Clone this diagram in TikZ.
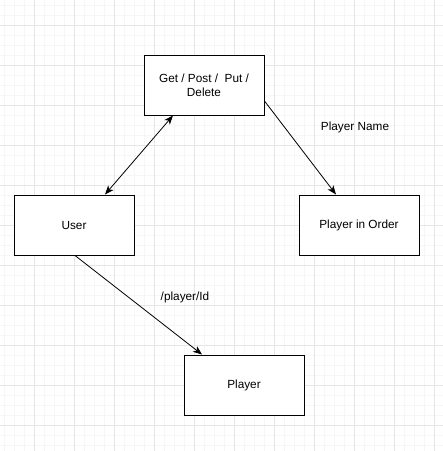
\documentclass[tikz,border=0pt]{standalone}
\usepackage{fontspec}
\setmainfont{Liberation Sans}
\usetikzlibrary{arrows.meta}
\definecolor{gridminor}{HTML}{F6F6F6}
\definecolor{gridmajor}{HTML}{E6E6E6}
\begin{document}
\begin{tikzpicture}[x=1pt,y=-1pt,
  box/.style={draw=black,line width=1pt,fill=white,minimum width=120pt,minimum height=60pt,inner sep=0pt,align=center,font=\fontsize{11.8}{14}\selectfont},
  lbl/.style={font=\fontsize{11.8}{14}\selectfont,inner sep=0pt},
  conn/.style={line width=0.8pt,-{Stealth[length=9pt,width=7pt,inset=2.5pt]}},
  dconn/.style={line width=0.8pt,{Stealth[length=9pt,width=7pt,inset=2.5pt]}-{Stealth[length=9pt,width=7pt,inset=2.5pt]}}]
\useasboundingbox (0,0) rectangle (443,451);
\fill[white] (0,0) rectangle (443,451);
\foreach \gx in {4,14,...,443} \draw[gridminor,line width=0.6pt] (\gx,0) -- (\gx,451);
\foreach \gy in {5,15,...,451} \draw[gridminor,line width=0.6pt] (0,\gy) -- (443,\gy);
\foreach \gx in {34,74,...,443} \draw[gridmajor,line width=0.6pt] (\gx,0) -- (\gx,451);
\foreach \gy in {25,65,...,451} \draw[gridmajor,line width=0.6pt] (0,\gy) -- (443,\gy);
\node[box] (get) at (204,85) {Get / Post /\ \ Put /\\Delete};
\node[box] (user) at (74,225) {User};
\node[box] (order) at (359,225) {Player in Order};
\node[box] (player) at (244,385) {Player};
\node[lbl] (pname) at (355,127) {Player Name};
\node[lbl] (pid) at (185,297) {/player/Id};
\draw[dconn] ([xshift=31pt]user.north) -- ([xshift=-31pt]get.south);
\draw[conn] ([yshift=-16pt]get.east) -- ([xshift=-23pt]order.north);
\draw[conn] ([xshift=1pt]user.south) -- ([xshift=-42pt]player.north);
\end{tikzpicture}
\end{document}
